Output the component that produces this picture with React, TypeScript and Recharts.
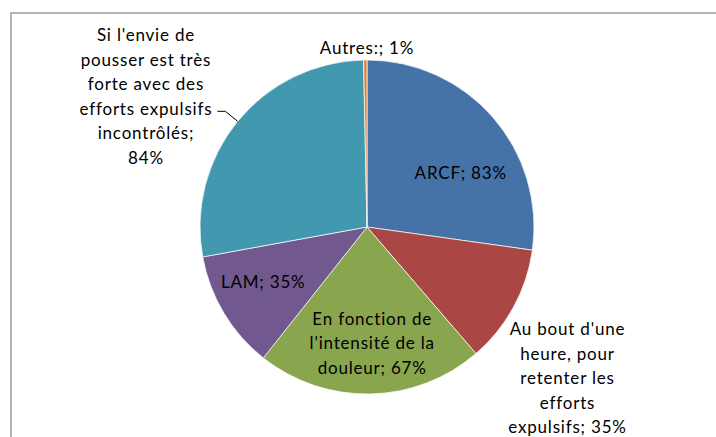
import React from 'react';
import { PieChart, Pie, Cell } from 'recharts';

// Categories and percentages
const categories = [
  'ARCF',
  "Au bout d'une heure, pour retenter les efforts expulsifs",
  "En fonction de l'intensité de la douleur",
  'LAM',
  "Si l'envie de pousser est très forte avec des efforts expulsifs incontrôlés",
  'Autres:',
];
const values = [83, 35, 67, 35, 84, 1];

// Wrapped label text, as Excel broke it
const labelLines = [
  ['ARCF; 83%'],
  ["Au bout d'une", 'heure, pour', 'retenter les', 'efforts', 'expulsifs; 35%'],
  ['En fonction de', "l'intensité de la", 'douleur; 67%'],
  ['LAM; 35%'],
  ["Si l'envie de", 'pousser est très', 'forte avec des', 'efforts expulsifs', 'incontrôlés;', '84%'],
  ['Autres:; 1%'],
];

const colors = ['#4572A7', '#AA4643', '#89A54E', '#71588F', '#4198AF', '#DB843D'];

// label placement: radius factor and clockwise shift (deg) off the slice mid angle
const labelRadius = [0.65, 1.5, 0.69, 0.7, 1.54, 1.08];
const labelShift = [10.7, 8.2, -1.4, 3.6, -8.5, 0.6];

const data = categories.map((name, i) => ({ name, value: values[i] }));

const RAD = Math.PI / 180;
const LINE_H = 24.5;

const renderLabel = (props: any) => {
  const { cx, cy, midAngle, outerRadius, index } = props;
  const a = (midAngle - labelShift[index]) * RAD;
  const r = outerRadius * labelRadius[index];
  const x = cx + r * Math.cos(a);
  const y = cy - r * Math.sin(a);
  const lines = labelLines[index];
  const y0 = y - ((lines.length - 1) / 2) * LINE_H;

  let leader = null;
  if (index === 4) {
    const m = midAngle * RAD;
    const sx = cx + outerRadius * Math.cos(m);
    const sy = cy - outerRadius * Math.sin(m);
    const ex = cx + outerRadius * 1.095 * Math.cos(m);
    const ey = cy - outerRadius * 1.095 * Math.sin(m);
    const dir = Math.cos(m) < 0 ? -1 : 1;
    leader = (
      <polyline
        points={`${sx},${sy} ${ex},${ey} ${ex + dir * 8},${ey}`}
        fill="none"
        stroke="#000"
        strokeWidth={1}
      />
    );
  }

  return (
    <g key={`lbl-${index}`}>
      {leader}
      <text
        x={x}
        y={y0}
        textAnchor="middle"
        dominantBaseline="central"
        fill="#000"
        fontSize={17}
        letterSpacing={0.8}
        fontFamily="Lato, 'Open Sans', sans-serif"
      >
        {lines.map((l, k) => (
          <tspan key={k} x={x} y={y0 + k * LINE_H}>
            {l}
          </tspan>
        ))}
      </text>
    </g>
  );
};

const App: React.FC = () => {
  return (
    <div style={{ position: 'absolute', left: 0, top: 0, width: 716, height: 437, overflow: 'hidden', background: '#fff' }}>
      <div
        style={{
          position: 'absolute',
          left: 10,
          top: 12,
          width: 720,
          height: 440,
          border: '2px solid #b3b3b3',
          boxSizing: 'border-box',
        }}
      />
      <div style={{ position: 'absolute', left: 0, top: 0 }}>
        <PieChart width={716} height={437} margin={{ top: 0, right: 0, bottom: 0, left: 0 }}>
          <Pie
            data={data}
            dataKey="value"
            nameKey="name"
            cx={367}
            cy={227}
            outerRadius={167}
            startAngle={90}
            endAngle={-270}
            stroke="#ffffff"
            strokeWidth={0.7}
            label={renderLabel}
            labelLine={false}
            isAnimationActive={false}
          >
            {data.map((d, i) => (
              <Cell key={d.name} fill={colors[i]} />
            ))}
          </Pie>
        </PieChart>
      </div>
    </div>
  );
};

export default App;
